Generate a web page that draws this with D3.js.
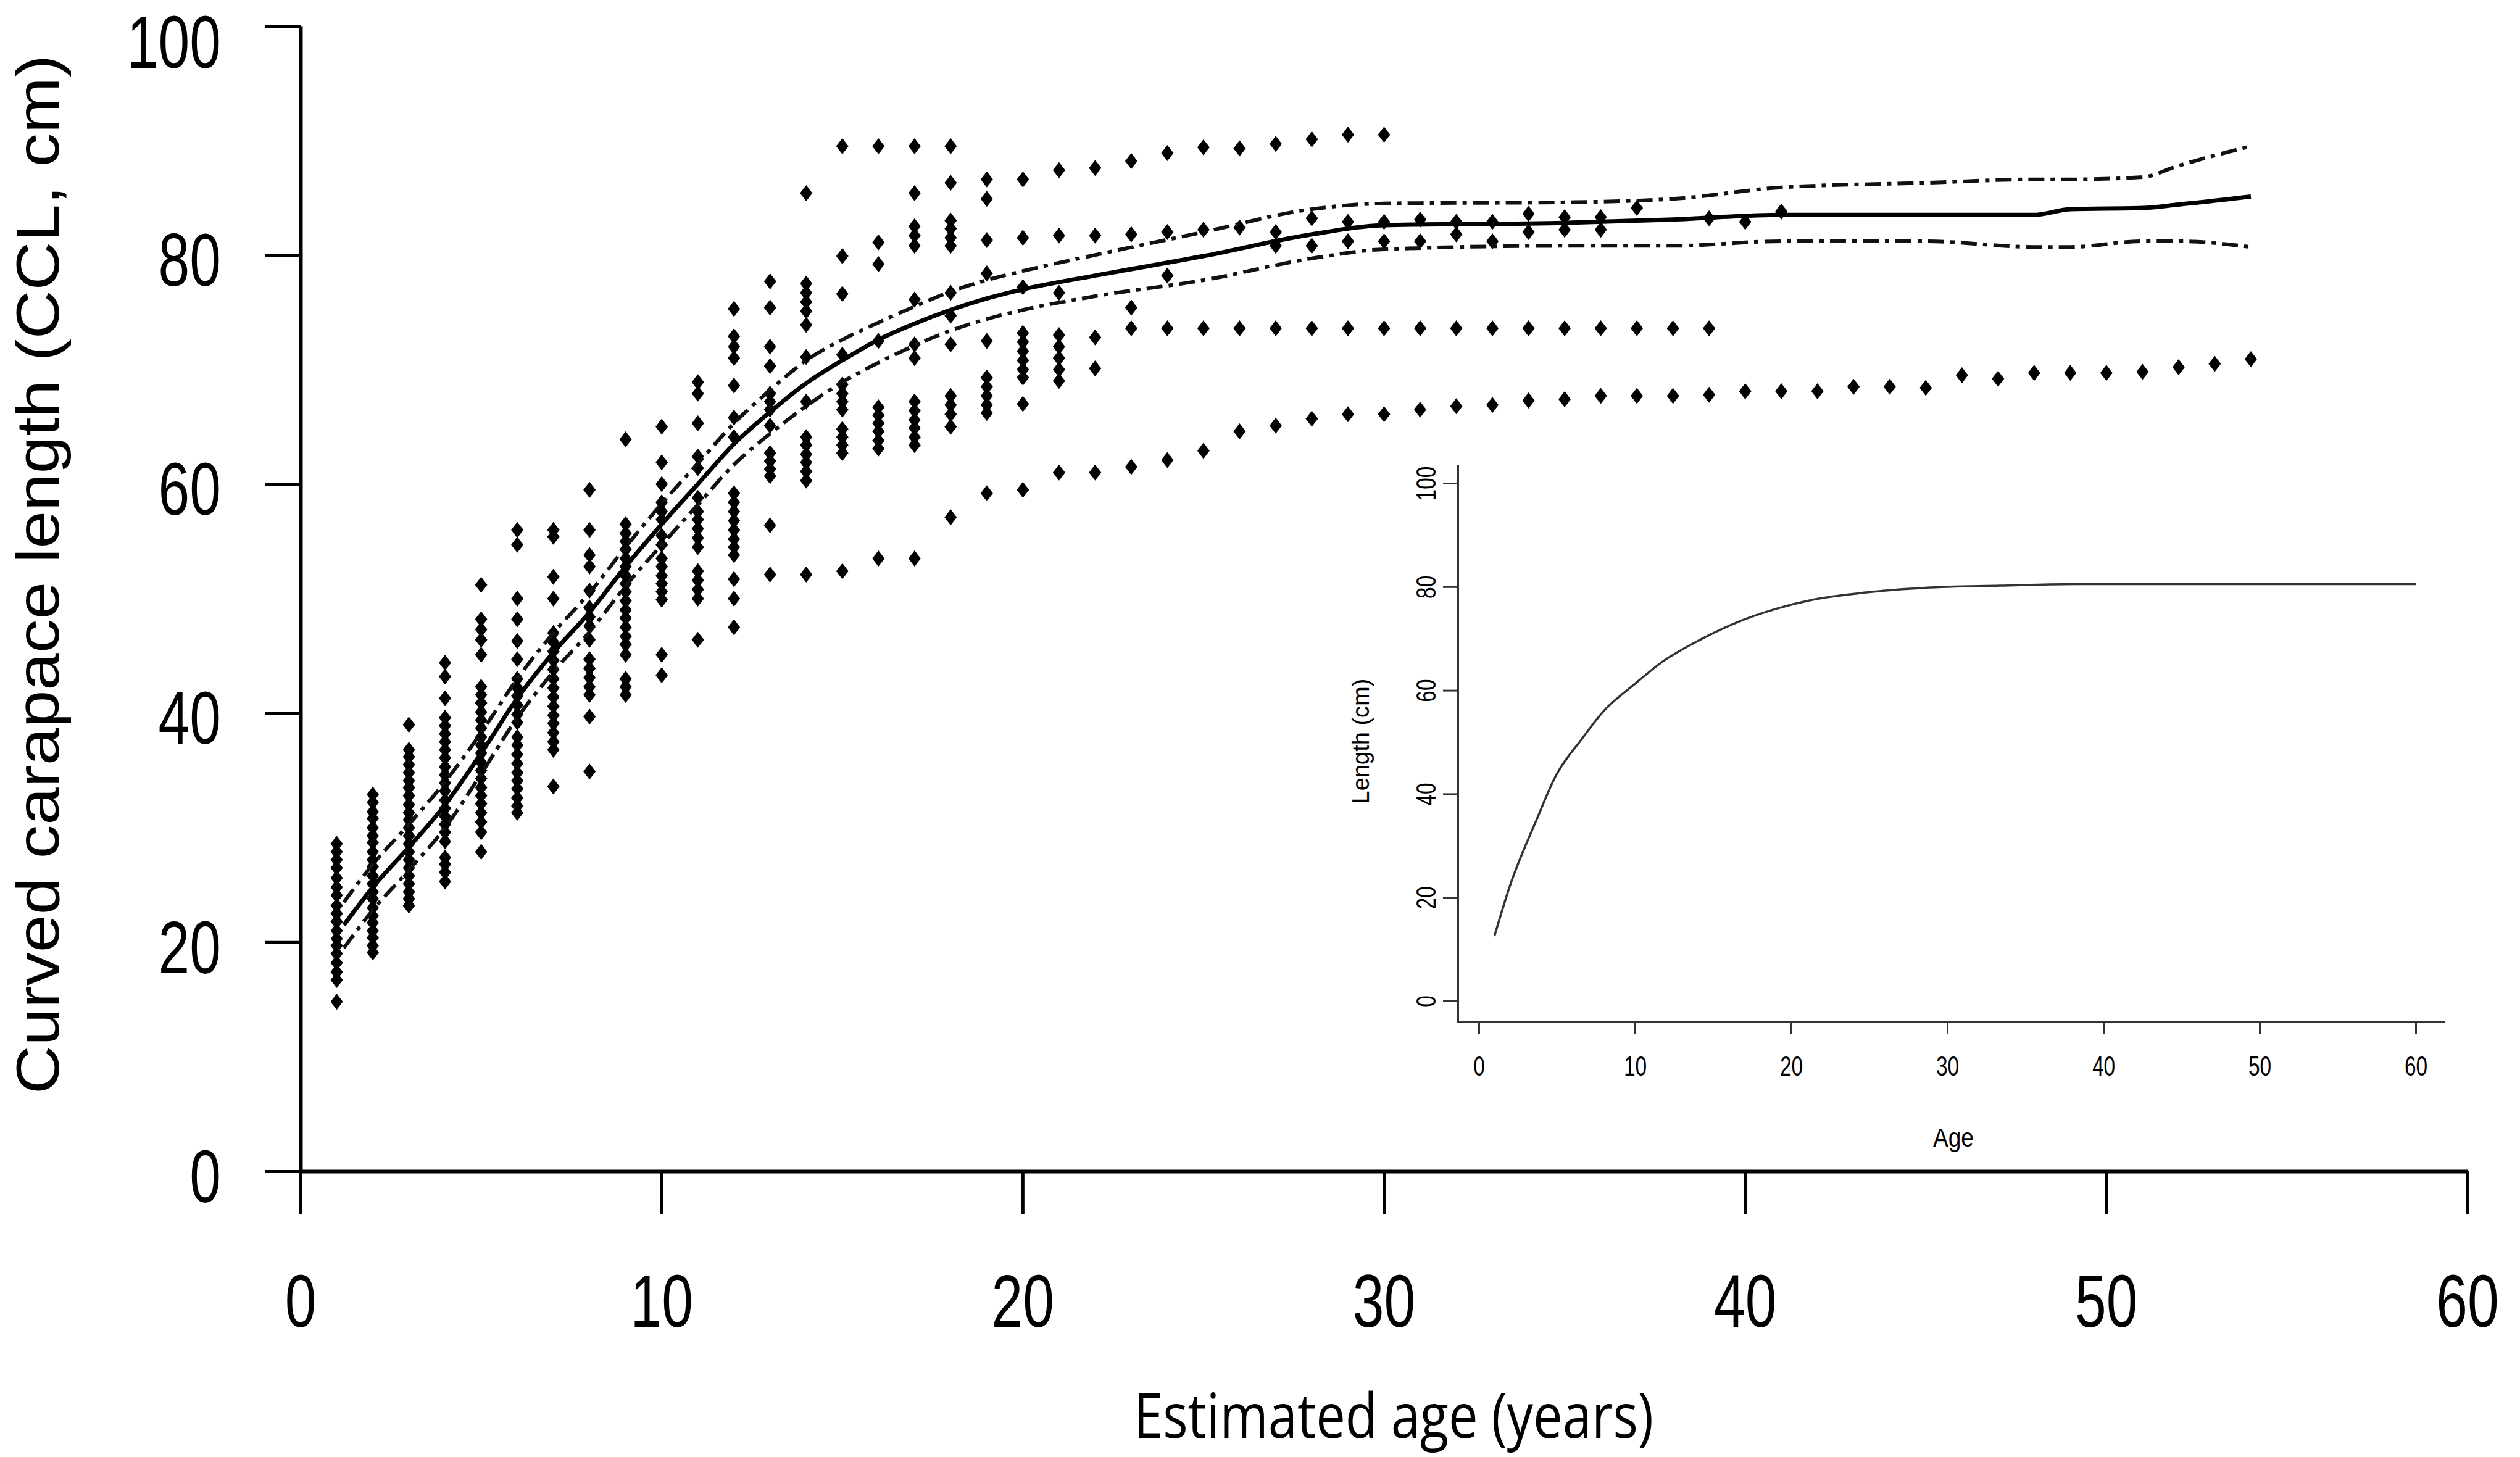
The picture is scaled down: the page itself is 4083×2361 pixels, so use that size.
<!DOCTYPE html>
<html>
<head>
<meta charset="utf-8">
<script src="https://cdn.jsdelivr.net/npm/d3@7"></script>
<style>
  body { margin:0; background:#fff; overflow:hidden; }
  text { fill:#000; }
</style>
</head>
<body>
<div id="chart"></div>
<script>
var scatterAges = [1,2,3,4,5,6,7,8,9,10,11,12,13,14,15,16,17,18,19,20,21,22,23,24,25,26,27,28,29,30,
  31,32,33,34,35,36,37,38,39,40,41,42,43,44,45,46,47,48,49,50,51,52,53,54];
var scatterLengths = [
  [28.6,27.9,27.2,26.5,25.6,24.8,24.1,23.2,22.5,21.8,21.0,20.3,19.7,19.0,18.2,17.4,16.7,14.8],
  [32.9,32.2,31.4,30.8,30.0,29.3,28.7,27.9,27.2,26.6,25.8,25.1,24.4,23.8,23.0,22.3,21.7,21.0,20.4,19.7,19.1],
  [39.0,36.8,36.2,35.5,34.8,34.1,33.5,32.8,32.0,31.3,30.7,30.0,29.3,28.6,27.9,27.2,26.5,25.8,25.1,24.4,23.8,23.2],
  [44.4,43.2,41.3,39.6,38.9,38.2,37.5,36.8,36.1,35.3,34.6,33.9,33.2,32.4,31.7,31.0,30.3,29.6,28.8,27.4,26.8,26.1,25.3],
  [51.2,48.2,47.3,46.4,45.1,42.3,41.6,40.9,40.1,39.4,38.7,37.9,37.2,36.5,35.7,35.0,34.3,33.5,32.8,32.1,31.3,30.5,29.6,27.9],
  [56.0,54.7,50.0,48.2,46.3,44.7,43.0,42.2,41.5,40.7,39.9,39.2,37.9,37.2,36.4,35.6,34.8,34.1,33.4,32.6,31.9,31.3],
  [56.0,55.4,51.9,50.0,47.0,46.2,45.4,44.6,43.8,43.0,42.2,41.4,40.6,39.8,39.1,38.3,37.5,36.8,33.6],
  [59.5,56.0,53.8,52.8,50.7,49.2,48.4,47.6,46.4,44.7,43.9,43.1,42.3,41.6,39.7,34.9],
  [63.9,56.5,55.7,55.0,54.3,53.5,52.8,52.0,51.3,50.6,49.8,49.0,48.3,47.5,46.7,46.0,45.1,43.0,42.3,41.6],
  [65.0,61.9,60.0,58.4,57.6,56.9,55.5,54.7,53.5,52.8,52.0,51.3,50.6,49.9,45.1,43.3],
  [68.9,67.9,65.3,62.4,61.4,58.8,57.6,56.9,56.1,55.3,54.5,52.4,51.6,50.8,50.0,46.4],
  [75.3,72.9,72.0,71.0,68.6,65.8,64.1,59.2,58.4,57.6,56.8,56.0,55.2,54.5,53.8,51.7,50.0,47.5],
  [77.7,75.4,72.0,70.3,67.9,67.2,66.5,65.1,62.7,62.0,61.3,60.7,56.4,52.1],
  [85.4,77.5,76.7,75.9,75.1,73.9,71.1,67.2,64.1,63.4,62.6,61.9,61.1,60.3,52.1],
  [89.5,79.9,76.6,71.3,68.7,67.9,67.2,66.5,64.8,64.1,63.4,62.7,52.4],
  [89.5,81.1,79.2,72.5,66.7,66.0,65.3,64.6,63.8,63.1,53.5],
  [89.5,85.4,82.5,81.7,80.8,76.1,72.2,71.0,67.2,66.4,65.6,64.9,64.1,63.4,53.5],
  [89.5,86.3,83.0,82.3,81.5,80.8,76.7,74.7,72.2,67.7,66.9,66.1,65.0,57.1],
  [86.6,84.9,81.3,78.4,72.5,69.3,68.5,67.7,66.9,66.2,59.2],
  [86.6,81.5,77.2,73.2,72.4,71.6,70.8,70.0,69.3,67.0,59.5],
  [87.4,81.7,76.7,73.0,72.0,71.0,70.0,69.0,61.0],
  [87.6,81.7,72.8,70.1,61.0],
  [88.2,81.8,75.4,73.6,61.5],
  [88.9,82.0,78.2,73.6,62.1],
  [89.4,82.2,73.6,62.9],
  [89.3,82.4,73.6,64.6],
  [89.7,82.0,80.8,73.6,65.1],
  [90.1,83.2,80.8,73.6,65.7],
  [90.5,82.9,81.2,73.6,66.1],
  [90.5,82.9,81.2,73.6,66.1],
  [83.1,81.2,73.6,66.5],
  [82.9,81.8,73.6,66.8],
  [82.9,81.2,73.6,66.9],
  [83.6,82.0,73.6,67.3],
  [83.3,82.2,73.6,67.4],
  [83.3,82.2,73.6,67.7],
  [84.1,73.6,67.7],
  [73.6,67.7],
  [83.2,73.6,67.8],
  [82.9,68.1],
  [83.8,68.1],
  [68.1],[68.5],[68.5],[68.4],[69.5],[69.2],[69.7],[69.7],[69.7],[69.8],[70.2],[70.5],[70.9]
];

// fitted growth curve and its confidence band
var fitAges   = [1.2,2,3,4,5,6,7,8,9,10,11,12,13,14,15,16,17,18,19,20,22,25,28,30,35,38,41,45,48,49,51,52,54];
var fitLength = [21.5,24.8,28.3,32.0,36.5,41.3,45.3,48.8,52.8,56.5,60.0,63.5,66.3,68.8,70.8,72.6,74.0,75.2,76.2,77.0,78.2,79.9,81.8,82.6,82.8,83.1,83.5,83.5,83.5,84.0,84.1,84.4,85.1];
var fitUpper  = [23.5,26.8,30.3,34.0,38.3,43.0,47.0,50.5,54.5,58.3,61.8,65.3,68.2,70.8,72.6,74.1,75.5,76.8,77.8,78.6,80.0,82.0,84.0,84.5,84.6,84.9,85.9,86.3,86.6,86.6,86.8,87.8,89.5];
var fitLower  = [19.5,22.8,26.3,30.0,34.7,39.6,43.6,47.1,51.1,54.7,58.2,61.7,64.4,66.8,68.9,70.6,72.1,73.4,74.4,75.2,76.4,77.8,79.7,80.5,80.8,80.8,81.2,81.2,80.7,80.7,81.2,81.2,80.7];

// inset growth curve
var insetAges   = [1,2,3.7,4.9,6.6,8,9.9,11.8,14.2,16.6,19,21.4,24.8,28.6,33.4,38.2,60];
var insetLength = [12.5,22.3,35.0,43.3,50.6,56.0,61.0,65.6,69.8,73.2,75.7,77.5,78.9,79.8,80.2,80.5,80.5];

var xTicks = [0,10,20,30,40,50,60];
var yTicks = [0,20,40,60,80,100];
var insetYTicks = [0,20,40,60,80,100];

var W = 4083, H = 2361;
var svg = d3.select("#chart").append("svg")
    .attr("width", W).attr("height", H);
svg.append("rect").attr("width", W).attr("height", H).attr("fill", "#fff");

var x = d3.scaleLinear().domain([0,60]).range([487,3998]);
var y = d3.scaleLinear().domain([0,100]).range([1898,42]);

var narrow = 0.76;

//axes
var xAxis = svg.append("g").attr("transform","translate(0,1898)")
   .call(d3.axisBottom(x).tickValues(xTicks).tickSize(70).tickPadding(97).tickSizeOuter(0));
var yAxis = svg.append("g").attr("transform","translate(487,0)")
   .call(d3.axisLeft(y).tickValues(yTicks).tickSize(58).tickPadding(71).tickSizeOuter(0));

[xAxis, yAxis].forEach(function(ax){
  ax.select(".domain").attr("stroke","#000").attr("stroke-width",6);
  ax.selectAll(".tick line").attr("stroke","#000").attr("stroke-width",5);
  ax.selectAll(".tick text")
    .style("font-family","'Liberation Sans', Arial, sans-serif")
    .style("font-size","120px")
    .attr("fill","#000");
});
// condensed digits like the original
yAxis.selectAll(".tick text").each(function(d){
  var t = d3.select(this);
  var x0 = +t.attr("x");
  t.attr("x", x0/narrow)
   .attr("dy", d == 100 ? "0.56em" : "0.41em")   // keep the top label inside the page
   .attr("transform","scale("+narrow+",1)");
});
xAxis.selectAll(".tick text").attr("transform","scale("+narrow+",1)");
xAxis.selectAll(".tick").each(function(d){
  d3.select(this).attr("transform","translate("+x(d)+",0)");
  d3.select(this).select("text").attr("x", 0);
});

// axis titles
svg.append("text")
  .text("Curved carapace length (CCL, cm)")
  .attr("transform","translate(95,931) rotate(-90)")
  .attr("text-anchor","middle")
  .attr("textLength",1684).attr("lengthAdjust","spacingAndGlyphs")
  .style("font-family","'Liberation Sans', Arial, sans-serif")
  .style("font-size","98px");

svg.append("text")
  .text("Estimated age (years)")
  .attr("x",2258).attr("y",2330)
  .attr("text-anchor","middle")
  .attr("textLength",842).attr("lengthAdjust","spacingAndGlyphs")
  .style("font-family","'Open Sans', 'Noto Sans', sans-serif")
  .style("font-size","100px");

// scatter
var points = [];
scatterAges.forEach(function(a,i){
  scatterLengths[i].forEach(function(v){ points.push({age:a, len:v}); });
});
svg.append("g").selectAll("path")
  .data(points).enter().append("path")
  .attr("d","M0,-13L10,0L0,13L-10,0Z")
  .attr("transform", function(d){ return "translate("+x(d.age)+","+y(d.len)+")"; })
  .attr("fill","#000");

// fit lines
var fitRows = fitAges.map(function(a,i){
  return {age:a, fit:fitLength[i], up:fitUpper[i], lo:fitLower[i]};
});
function lineFor(key){
  return d3.line().x(function(d){ return x(d.age); })
    .y(function(d){ return y(d[key]); })
    .curve(d3.curveMonotoneX);
}
svg.append("path").datum(fitRows).attr("d", lineFor("fit"))
  .attr("fill","none").attr("stroke","#000").attr("stroke-width",7);
["up","lo"].forEach(function(k){
  svg.append("path").datum(fitRows).attr("d", lineFor(k))
    .attr("fill","none").attr("stroke","#111").attr("stroke-width",6)
    .attr("stroke-dasharray","26,10,7,10");
});

// inset
var ix = d3.scaleLinear().domain([0,60]).range([2396,3914]);
var iy = d3.scaleLinear().domain([0,100]).range([1622,783]);
var inset = svg.append("g");
inset.append("path")
  .attr("d","M2362,754V1656H3962")
  .attr("fill","none").attr("stroke","#333").attr("stroke-width",4);

var ixAxis = inset.append("g").attr("transform","translate(0,1656)")
  .call(d3.axisBottom(ix).tickValues(xTicks).tickSize(20).tickPadding(36).tickSizeOuter(0));
var iyAxis = inset.append("g").attr("transform","translate(2362,0)")
  .call(d3.axisLeft(iy).tickValues(insetYTicks).tickSize(24).tickPadding(40).tickSizeOuter(0));
[ixAxis, iyAxis].forEach(function(ax){
  ax.select(".domain").remove();
  ax.selectAll(".tick line").attr("stroke","#333").attr("stroke-width",3);
  ax.selectAll(".tick text")
    .style("font-family","'Liberation Sans', Arial, sans-serif")
    .style("font-size","44px").attr("fill","#333");
});
ixAxis.selectAll(".tick").each(function(d){
  d3.select(this).select("text").attr("x", 0)
    .attr("transform","scale("+narrow+",1)");
});
iyAxis.selectAll(".tick text")
  .attr("x",null).attr("dy",null)
  .attr("text-anchor","middle")
  .attr("transform","translate(-52,0) rotate(-90) scale("+narrow+",1) translate(0,16)");

inset.append("text").text("Length (cm)")
  .attr("transform","translate(2218,1201) rotate(-90)")
  .attr("text-anchor","middle")
  .style("font-family","'Liberation Sans', Arial, sans-serif")
  .style("font-size","38px").attr("fill","#333");
inset.append("text").text("Age")
  .attr("x",3165).attr("y",1858)
  .attr("text-anchor","middle")
  .attr("textLength",66).attr("lengthAdjust","spacingAndGlyphs")
  .style("font-family","'Liberation Sans', Arial, sans-serif")
  .style("font-size","42px").attr("fill","#333");

var insetRows = insetAges.map(function(a,i){ return {age:a, len:insetLength[i]}; });
inset.append("path").datum(insetRows)
  .attr("d", d3.line().x(function(d){ return ix(d.age); })
     .y(function(d){ return iy(d.len); }).curve(d3.curveMonotoneX))
  .attr("fill","none").attr("stroke","#333").attr("stroke-width",3.5);
</script>
</body>
</html>
